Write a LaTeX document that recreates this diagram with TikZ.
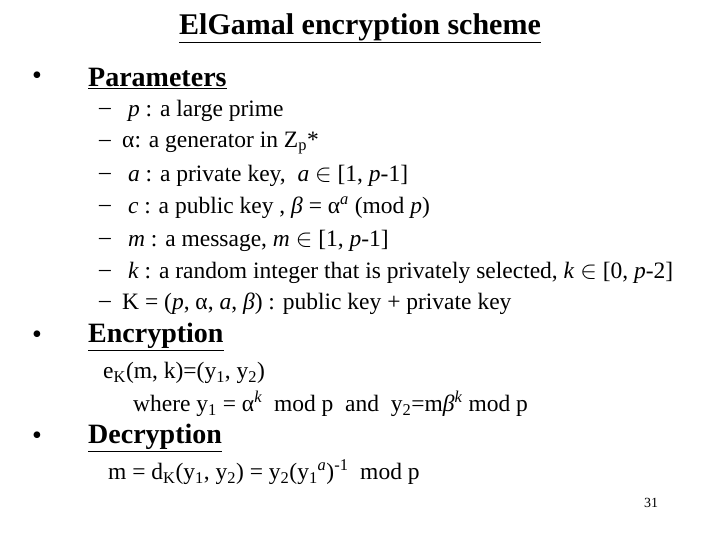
\documentclass[tikz,border=0pt]{standalone}
\usepackage{fontspec}
\setmainfont{Liberation Serif}
\usepackage{tikz}
\usetikzlibrary{positioning}
\tikzset{
  line/.style={anchor=west,inner sep=0pt,font=\fontsize{23.5}{27}\selectfont},
  head/.style={anchor=west,inner sep=0pt,font=\fontsize{28}{32}\selectfont\bfseries},
  bullet/.style={anchor=west,inner sep=0pt,font=\fontsize{28}{32}\selectfont},
  dashmark/.style={anchor=west,inner sep=0pt,font=\fontsize{23.5}{27}\selectfont}
}
\newcommand{\vr}[1]{\textit{#1}}
\newcommand{\ul}[1]{\underline{#1}}
\begin{document}
\begin{tikzpicture}[x=1pt,y=-1pt]
\useasboundingbox (0,0) rectangle (720,540);
\node(title)[inner sep=0pt] at (360,28) {\fontsize{30}{34}\selectfont\bfseries\ul{ElGamal encryption scheme}};
% parameters
\node(b1)[bullet] at (32,78) {•};
\node(h1)[head] at (88,78) {\ul{Parameters}};
\foreach \y/\t [count=\i] in {111/{\ \vr{p} : a large prime},
  143/{α: a generator in Z\textsubscript{p}*},
  176/{\ \vr{a} : a private key,\ \ \vr{a} $\in$ [1, \vr{p}-1]},
  208/{\ \vr{c} : a public key , \vr{β} = α\textsuperscript{\vr{a}} (mod \vr{p})},
  241/{\ \vr{m} : a message, \vr{m} $\in$ [1, \vr{p}-1]},
  273/{\ \vr{k} : a random integer that is privately selected, \vr{k} $\in$ [0, \vr{p}-2]},
  304/{K = (\vr{p}, α, \vr{a}, \vr{β}) : public key + private key}}
{
  \node(d\i)[dashmark] at (99,\y) {–};
  \node(p\i)[line] at (122,\y) {\t};
}
% encryption
\node(b2)[bullet] at (32,337) {•};
\node(h2)[head] at (88,337) {\ul{Encryption}};
\node(e1)[line] at (103,373) {e\textsubscript{K}(m, k)=(y\textsubscript{1}, y\textsubscript{2})};
\node(e2)[line] at (133,404) {where y\textsubscript{1} = α\textsuperscript{\vr{k}}\ \ mod p\ \ and\ \ y\textsubscript{2}=m\vr{β}\textsuperscript{\vr{k}} mod p};
% decryption
\node(b3)[bullet] at (32,438) {•};
\node(h3)[head] at (88,438) {\ul{Decryption}};
\node(m1)[line] at (108,472) {m = d\textsubscript{K}(y\textsubscript{1}, y\textsubscript{2}) = y\textsubscript{2}(y\textsubscript{1}\textsuperscript{\vr{a}})\textsuperscript{-1}\ \ mod p};
\node(num)[anchor=center,font=\fontsize{14}{16}\selectfont] at (651,503) {31};
\end{tikzpicture}
\end{document}
